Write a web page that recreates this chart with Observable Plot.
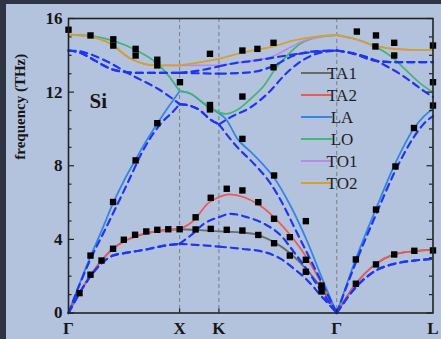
<!DOCTYPE html>
<html><head><meta charset="utf-8">
<script src="https://cdn.jsdelivr.net/npm/d3@7"></script>
<script src="https://cdn.jsdelivr.net/npm/@observablehq/plot@0.6"></script>
<style>
html,body{margin:0;padding:0;background:#2d3443;}
#wrap{position:relative;width:441px;height:339px;overflow:hidden;background:#2d3443;}
#panel{position:absolute;left:6px;top:4px;right:0;bottom:0;background:#b4c3dd;}
#chart{position:absolute;left:0;top:0;}
</style></head><body>
<div id="wrap"><div id="panel"></div><div id="chart"></div></div>
<script>
// High-symmetry path Γ-X-K-Γ-L (units of 2π/a)
const symQ = [0, 1, 1.3536, 2.4142, 3.2802];
const symLabels = ["Γ", "X", "K", "Γ", "L"];
const yTicks = [0, 4, 8, 12, 16];
const yMinor = [1, 2, 3, 5, 6, 7, 9, 10, 11, 13, 14, 15];
const branchNames = ["TA1", "TA2", "LA", "LO", "TO1", "TO2"];
const branchColors = ["#6a6a6a", "#ee5858", "#3486e2", "#46b479", "#b48de6", "#d5a12d"];

// Solid curves (THz)
const TA_GX = [[0,0],[0.099,1.08],[0.198,2.04],[0.297,2.85],[0.399,3.49],[0.529,3.98],[0.679,4.30],[0.829,4.48],[1,4.55]];
const TA_GL = [[2.4142,0],[2.586,1.59],[2.767,2.67],[2.931,3.18],[3.112,3.36],[3.2802,3.43]];
const TA1_XKG = [[1.18,4.5],[1.3536,4.43],[1.55,4.38],[1.70,4.25],[1.85,3.85],[2.0,3.22],[2.151,2.31],[2.271,1.40],[2.4142,0]];
const TA2_XKG = [[1.129,5.03],[1.25,5.93],[1.3536,6.29],[1.445,6.44],[1.58,6.29],[1.70,5.93],[1.85,5.2],[2.0,4.21],[2.151,2.94],[2.271,1.67],[2.4142,0]];
const LA = [[0,0],[0.1,1.6],[0.2,3.1],[0.3,4.5],[0.4,5.95],[0.5,7.2],[0.6,8.3],[0.7,9.35],[0.8,10.3],[0.9,11.2],[1,12.05],
  [1.099,11.91],[1.219,11.37],[1.3536,10.85],
  [1.415,10.55],[1.52,9.46],[1.64,8.75],[1.73,8.2],[1.85,7.35],[2.0,5.8],[2.151,3.85],[2.271,2.05],[2.4142,0],
  [2.586,2.95],[2.767,5.66],[2.931,8.0],[3.112,10.06],[3.2,10.7],[3.2802,11.09]];
const LO = [[0,15.12],[0.2,15.06],[0.4,14.8],[0.6,14.3],[0.8,13.54],[0.9,12.9],[1,12.05],
  [1.099,11.91],[1.219,11.4],[1.3536,10.9],
  [1.415,10.82],[1.52,11.04],[1.64,11.64],[1.76,12.36],[1.865,13.3],[1.97,14.0],[2.091,14.65],[2.241,14.98],[2.4142,15.1],
  [2.571,14.9],[2.751,14.5],[2.902,13.95],[3.037,13.2],[3.172,12.45],[3.2802,12.0]];
const TO_GX = [[0,15.12],[0.2,15.0],[0.38,14.62],[0.56,13.81],[0.68,13.54],[0.8,13.45],[1,13.45]];
const TO_GL = [[2.4142,15.1],[2.571,14.9],[2.751,14.54],[2.902,14.36],[3.082,14.3],[3.2802,14.3]];
const TO1_XKG = [[1.19,13.45],[1.3536,13.45],[1.64,13.7],[1.82,13.9],[1.97,14.35],[2.1,14.75],[2.25,15.0],[2.4142,15.1]];
const TO2_XKG = [[1.19,13.63],[1.3536,13.81],[1.64,14.24],[1.82,14.45],[2.03,14.81],[2.241,15.03],[2.4142,15.1]];

// Dashed curves (THz)
const dTA_GX = [[0,0],[0.099,1.08],[0.198,2.0],[0.297,2.7],[0.4,3.12],[0.529,3.28],[0.679,3.43],[0.829,3.62],[1,3.76]];
const dTA_GL = [[2.4142,0],[2.586,1.4],[2.767,2.31],[2.931,2.67],[3.112,2.85],[3.2802,2.94]];
const dTA1_XKG = [[1.2,3.68],[1.3536,3.61],[1.55,3.49],[1.73,3.36],[1.911,2.94],[2.03,2.4],[2.151,1.77],[2.271,0.95],[2.4142,0]];
const dTA2_XKG = [[1.099,4.21],[1.219,4.85],[1.3536,5.2],[1.46,5.39],[1.61,5.2],[1.76,4.85],[1.911,4.21],[2.03,3.3],[2.151,2.31],[2.271,1.22],[2.4142,0]];
const dL_XK = [[1.099,11.25],[1.16,11.1],[1.28,10.5],[1.3536,10.25]];
const dLA_GX = [[0,0],[0.1,1.55],[0.2,2.95],[0.333,4.57],[0.529,7.02],[0.679,8.92],[0.829,10.28],[0.95,11.0],[1,11.35]];
const dLA_KGL = [[1.52,9.0],[1.67,8.1],[1.82,7.02],[1.911,6.11],[2.061,4.3],[2.211,2.49],[2.4142,0],
  [2.586,2.75],[2.767,5.35],[2.931,7.6],[3.112,9.6],[3.2,10.3],[3.2802,10.7]];
const dLO_GX = [[0,14.26],[0.1,14.22],[0.2,14.05],[0.3,13.8],[0.4,13.5],[0.5,13.15],[0.6,12.82],[0.7,12.52],[0.8,12.2],[0.9,11.8],[1,11.35]];
const dLO_KGL = [[1.46,10.64],[1.64,11.18],[1.82,12.09],[1.94,12.9],[2.06,13.54],[2.241,14.1],[2.4142,14.26],
  [2.571,14.1],[2.751,13.75],[2.85,13.45],[2.98,13.0],[3.1,12.5],[3.2,12.05],[3.2802,11.75]];
const dTO_GX = [[0,14.26],[0.1,14.15],[0.2,13.85],[0.3,13.5],[0.4,13.22],[0.5,13.1],[0.6,13.05],[1,13.05]];
const dTO_GL = [[2.4142,14.26],[2.571,14.08],[2.751,13.72],[2.931,13.63],[3.2802,13.63]];
const dTO1_XKG = [[1.2,13.02],[1.3536,13.0],[1.64,13.08],[1.82,13.36],[2.03,13.99],[2.241,14.23],[2.4142,14.26]];
const dTO2_XKG = [[1.2,13.2],[1.3536,13.4],[1.5,13.58],[1.64,13.68],[1.82,13.85],[2.03,14.05],[2.241,14.2],[2.4142,14.26]];

// Experimental points (q, THz)
const expQ = [0,0.198,0.403,0.403,0.604,0.604,0.799,0.799,1.003,1.273,1.565,1.700,1.845,1.273,1.273,1.565,1.845,1.565,1.850,
  2.595,2.767,2.762,2.931,2.931,3.28,3.28,3.28,3.109,2.942,2.767,2.586,2.586,2.767,2.931,3.112,3.28,
  0.099,0.198,0.198,0.297,0.401,0.401,0.498,0.599,0.700,0.799,0.898,1.0,0.604,0.799,
  1.144,1.144,1.280,1.280,1.424,1.424,1.565,1.565,1.708,1.708,1.850,1.850,1.992,1.992,2.136,2.136,2.136,2.277,2.277];
const expF = [15.39,15.08,14.87,14.53,14.35,13.99,13.76,13.45,12.54,14.08,14.26,14.35,14.68,11.30,11.06,11.76,13.35,9.46,7.47,
  15.29,15.08,14.48,14.68,13.99,14.53,12.54,11.27,10.05,7.96,5.62,2.91,1.59,2.64,3.18,3.38,3.40,
  1.08,2.08,3.12,2.85,6.03,3.49,3.98,4.25,4.43,4.52,4.55,4.55,8.29,10.31,
  5.20,4.54,6.26,4.57,6.75,4.52,6.66,4.48,6.02,4.24,5.12,3.79,4.12,3.12,4.99,2.89,2.24,1.49,1.17];

const solid = [
  [...TA_GX, ...TA1_XKG, ...TA_GL],
  [...TA_GX, ...TA2_XKG, ...TA_GL],
  LA, LO,
  [...TO_GX, ...TO1_XKG, ...TO_GL],
  [...TO_GX, ...TO2_XKG, ...TO_GL]
];
const dashed = [
  [...dTA_GX, ...dTA1_XKG, ...dTA_GL],
  [...dTA_GX, ...dTA2_XKG, ...dTA_GL],
  [...dLA_GX, ...dL_XK, ...dLA_KGL],
  [...dLO_GX, ...dL_XK, ...dLO_KGL],
  [...dTO_GX, ...dTO1_XKG, ...dTO_GL],
  [...dTO_GX, ...dTO2_XKG, ...dTO_GL]
];

function segRows(points, name) {
  const rows = [];
  for (let s = 0; s < symQ.length - 1; s++) {
    const a = symQ[s], b = symQ[s + 1];
    for (const [q, f] of points) if (q >= a - 1e-6 && q <= b + 1e-6) rows.push({q, f, seg: name + "_" + s});
  }
  return rows;
}
const expData = expQ.map((q, i) => ({q, f: expF[i]}));
const labelMap = new Map(symQ.map((q, i) => [q, symLabels[i]]));

const W = 441, H = 339, mL = 68, mR = 8.5, mT = 18, mB = 26.5;
const pw = W - mL - mR, ph = H - mT - mB;

function legendMark() {
  const g = d3.create("svg:g");
  branchNames.forEach((n, i) => {
    const y = mT + 55 + 22 * i;
    g.append("line").attr("x1", mL + 233).attr("x2", mL + 264).attr("y1", y).attr("y2", y)
      .attr("stroke", branchColors[i]).attr("stroke-width", 2);
    g.append("text").attr("x", mL + 274).attr("y", y).attr("dy", "0.35em")
      .attr("font-size", 17).attr("font-weight", "normal").attr("fill", "#1e1e1e").text(n);
  });
  return g.node();
}

const chart = Plot.plot({
  width: W, height: H,
  marginLeft: mL, marginRight: mR, marginTop: mT, marginBottom: mB,
  x: {domain: [0, 3.2802]},
  y: {domain: [0, 16]},
  style: {background: "transparent", fontFamily: "'Liberation Serif','Times New Roman',serif", fontSize: "17px", fontWeight: "bold", color: "#161616"},
  marks: [
    Plot.ruleX(symQ.slice(1, 4), {stroke: "#7c7c7c", strokeWidth: 1, strokeDasharray: "4,3"}),
    ...solid.map((d, i) => Plot.line(segRows(d, "s" + i), {x: "q", y: "f", z: "seg", stroke: branchColors[i], strokeWidth: 1.8, curve: "monotone-x"})),
    ...dashed.map((d, i) => Plot.line(segRows(d, "d" + i), {x: "q", y: "f", z: "seg", stroke: "#1e36f2", strokeWidth: 2.2, strokeDasharray: "7,5", curve: "monotone-x"})),
    Plot.dot(expData, {x: "q", y: "f", symbol: "square", r: 3.6, fill: "#000", stroke: "none"}),
    Plot.frame({stroke: "#222", strokeWidth: 1.6}),
    Plot.tickY(yTicks, {y: d => d, insetRight: pw - 6, stroke: "#222", strokeWidth: 1.2}),
    Plot.tickY(yMinor, {y: d => d, insetRight: pw - 3.5, stroke: "#222", strokeWidth: 1.2}),
    Plot.tickY(yTicks, {y: d => d, insetLeft: pw - 6, stroke: "#222", strokeWidth: 1.2}),
    Plot.tickY(yMinor, {y: d => d, insetLeft: pw - 3.5, stroke: "#222", strokeWidth: 1.2}),
    Plot.tickX(symQ.slice(1, 4), {x: d => d, insetTop: ph - 4, stroke: "#222", strokeWidth: 1.2}),
    Plot.axisX(symQ, {tickSize: 0, tickPadding: 9, tickFormat: d => labelMap.get(d), label: null}),
    Plot.axisY(yTicks, {tickSize: 0, tickPadding: 6, label: null}),
    Plot.text(["frequency (THz)"], {frameAnchor: "left", dx: -48, dy: -6, rotate: -90, fontSize: 15, fontWeight: "bold", fill: "#161616"}),
    Plot.text(["Si"], {frameAnchor: "top-left", dx: 21, dy: 75, textAnchor: "start", fontSize: 21, fontWeight: "bold", fill: "#161616"}),
    legendMark
  ]
});
document.getElementById("chart").appendChild(chart);
</script>
</body></html>
